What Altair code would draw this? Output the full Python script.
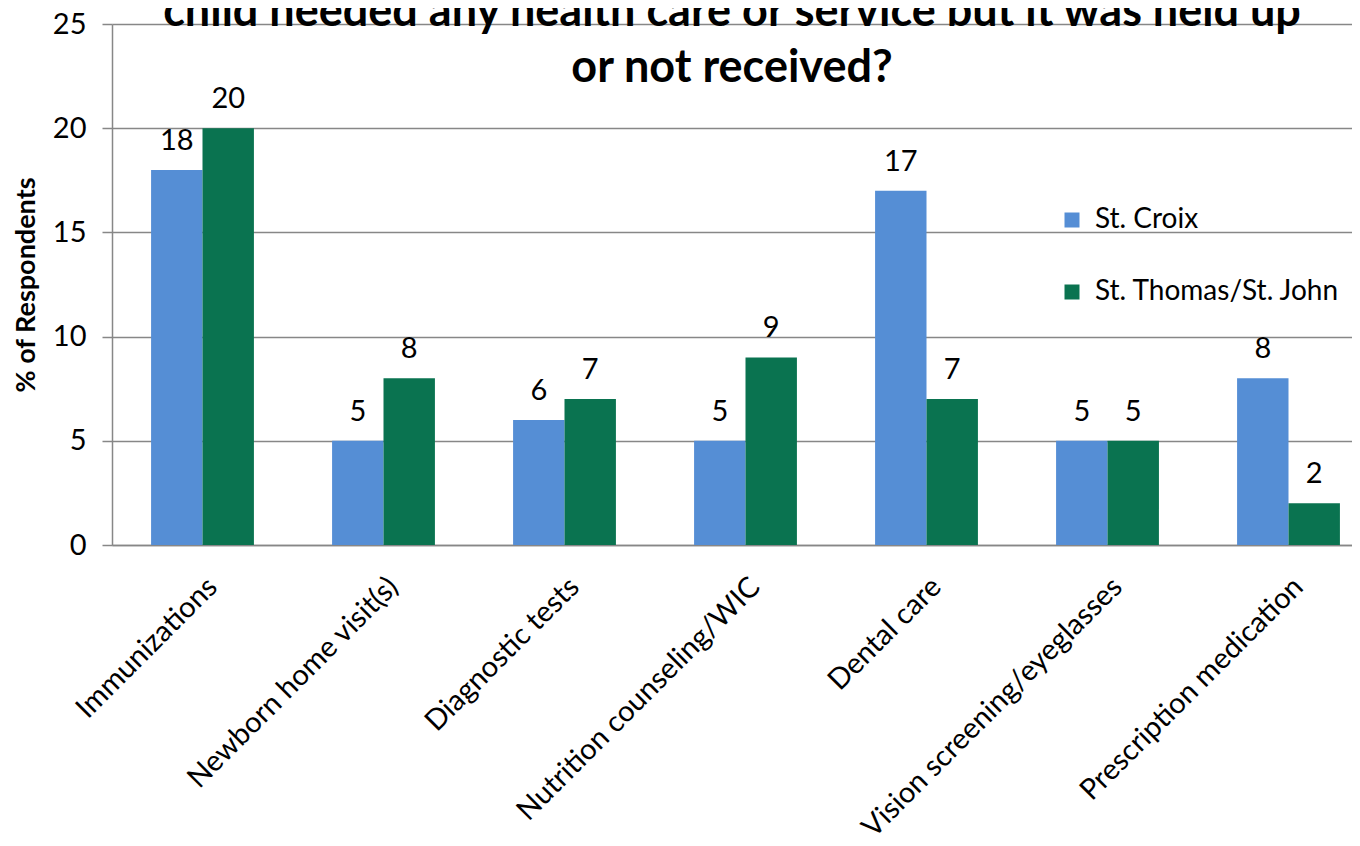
import altair as alt
import pandas as pd

categories = [
    "Immunizations",
    "Newborn home visit(s)",
    "Diagnostic tests",
    "Nutrition counseling/WIC",
    "Dental care",
    "Vision screening/eyeglasses",
    "Prescription medication",
]
st_croix = [18, 5, 6, 5, 17, 5, 8]
st_thomas_john = [20, 8, 7, 9, 7, 5, 2]
series = ["St. Croix", "St. Thomas/St. John"]
colors = ["#558ED5", "#0A7350"]
title_lines = [
    "child needed any health care or service but it was held up",
    "or not received?",
]
y_ticks = [0, 5, 10, 15, 20, 25]

rows = []
for c, a, b in zip(categories, st_croix, st_thomas_john):
    rows.append({"category": c, "series": series[0], "value": a})
    rows.append({"category": c, "series": series[1], "value": b})
df = pd.DataFrame(rows)

FONT = "Lato"
GRAY = "#878787"
FS = 29

x = alt.X(
    "category:N",
    sort=categories,
    scale=alt.Scale(range=[0, 1267], paddingInner=0, paddingOuter=0),
    axis=alt.Axis(
        title=None,
        labelAngle=-45,
        labelAlign="right",
        labelBaseline="top",
        labelPadding=27,
        labelFontSize=FS,
        labelFont=FONT,
        labelColor="black",
        ticks=False,
        domainColor=GRAY,
        domainWidth=1.5,
        labelLimit=0,
    ),
)
xo = alt.XOffset(
    "series:N", sort=series, scale=alt.Scale(paddingInner=0, paddingOuter=0.76)
)
y = alt.Y(
    "value:Q",
    scale=alt.Scale(domain=[0, 25], nice=False),
    axis=alt.Axis(
        values=y_ticks,
        title="% of Respondents",
        titleFontSize=27,
        titleFont=FONT,
        titleFontWeight="bold",
        titleColor="black",
        titlePadding=12,
        labelFontSize=FS,
        labelFont=FONT,
        labelColor="black",
        labelPadding=16,
        tickSize=10,
        tickColor=GRAY,
        tickWidth=1.5,
        domainColor=GRAY,
        domainWidth=1.5,
        gridColor=GRAY,
        gridWidth=1.5,
    ),
)
color = alt.Color(
    "series:N",
    sort=series,
    scale=alt.Scale(domain=series, range=colors),
    legend=alt.Legend(
        title=None,
        orient="none",
        legendX=946,
        legendY=182,
        symbolType="square",
        symbolSize=225,
        symbolStrokeWidth=0,
        labelFontSize=28,
        labelFont=FONT,
        labelColor="black",
        labelLimit=0,
        rowPadding=44,
        labelOffset=9,
    ),
)

bars = alt.Chart(df).mark_bar().encode(x=x, xOffset=xo, y=y, color=color)
labels = (
    alt.Chart(df)
    .mark_text(dy=-29, baseline="middle", fontSize=FS, font=FONT, color="black")
    .encode(x=x, xOffset=xo, y=y, text="value:Q")
)

chart = (
    alt.layer(bars, labels)
    .properties(
        width=1240,
        height=521,
        title=alt.TitleParams(
            text=title_lines,
            fontSize=45,
            font=FONT,
            fontWeight="bold",
            color="black",
            anchor="middle",
            offset=-81,
            lineHeight=56,
        ),
        padding={"left": 104, "top": 16, "right": 0, "bottom": 290},
        autosize=alt.AutoSizeParams(type="none"),
    )
    .configure_view(stroke=None)
)

chart.save("out.html", embed_options={"renderer": "svg", "actions": False})
